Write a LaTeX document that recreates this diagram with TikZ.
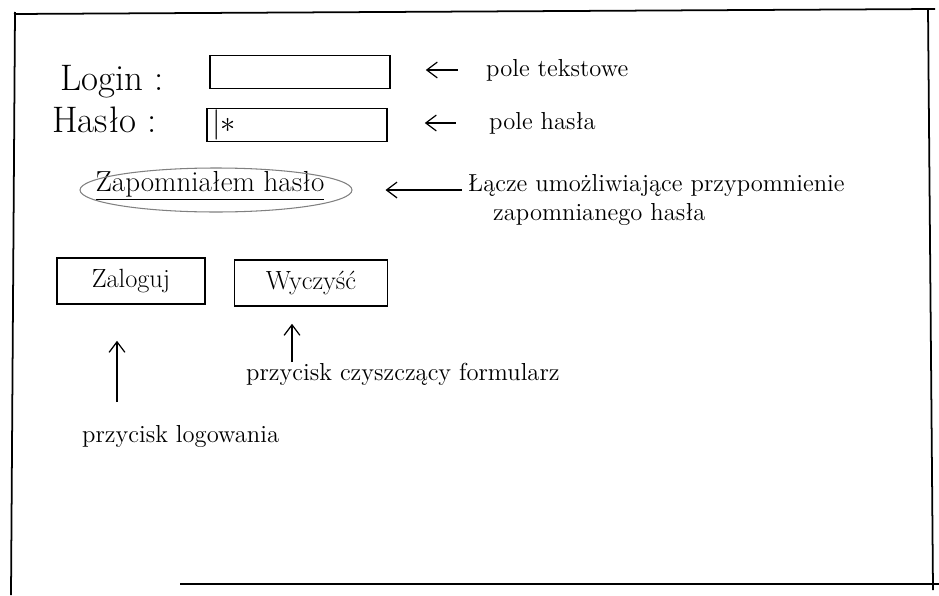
\documentclass[tikz,border=0pt]{standalone}
\usepackage{fontspec}
\usepackage{tikz}
\usetikzlibrary{shapes.geometric,arrows.meta,positioning,calc}

\begin{document}
\begin{tikzpicture}[
    x=0.02cm, y=-0.02cm,
    field/.style={rectangle, draw, line width=0.9pt, minimum width=3.6cm, minimum height=0.66cm},
    button/.style={rectangle, draw, line width=0.9pt, minimum height=0.92cm, font=\fontsize{15}{17}\selectfont},
    label/.style={font=\fontsize{21}{23}\selectfont, anchor=base west, inner sep=0pt},
    note/.style={font=\fontsize{14}{16}\selectfont, align=left, anchor=west},
    arrow/.style={-{Straight Barb[length=6pt,width=9pt]}, line width=0.7pt}
]
    \useasboundingbox (0,0) rectangle (939,595);
    % kartka
    \draw[line width=1pt] (14,14) -- (935,9);
    \draw[line width=1pt] (928,9) -- (933,590);
    \draw[line width=1pt] (180,584) -- (939,584);
    \draw[line width=1pt] (15,12) -- (11,595);

    % formularz
    \node[label] (login) at (60,90) {Login :};
    \node[label] (haslo) at (52,132) {Hasło :};
    \node[field] (loginfield) at (300,72) {};
    \node[field, text width=3.4cm, inner xsep=0.1cm, inner ysep=0pt, text height=10pt, text depth=2pt, align=left, font=\LARGE] (haslofield) at (297,125) {|$\ast$};

    \node[font=\fontsize{16.5}{18}\selectfont] (forgot) at (210,186) {\underline{Zapomniałem hasło}};
    \node[ellipse, draw, gray, line width=0.6pt, inner sep=0, minimum width=5.44cm, minimum height=0.88cm] (forgotoval) at (216,190) {};

    \node[button, minimum width=2.96cm] (zaloguj) at (131,281) {Zaloguj};
    \node[button, minimum width=3.06cm] (wyczysc) at (311,283) {Wyczyść};

    % opisy
    \node[note] (poletekst) at (480,70) {pole tekstowe};
    \node[note] (polehasla) at (483,123) {pole hasła};
    \node[note] (lacze) at (462,200) {Łącze umożliwiające przypomnienie\\\hspace{0.5cm}zapomnianego hasła};
    \node[note] (czyszczacy) at (240,374) {przycisk czyszczący formularz};
    \node[note] (logowanie) at (76,436) {przycisk logowania};

    \coordinate (zalogujptr) at (117,402);
    \coordinate (wyczyscptr) at (292,362);

    \draw[arrow, shorten <=0.45cm, shorten >=0.7cm] (poletekst.west) -- (loginfield.east |- poletekst.west);
    \draw[arrow, shorten <=0.55cm, shorten >=0.74cm] (polehasla.west) -- (haslofield.east |- polehasla.west);
    \draw[arrow, shorten >=0.66cm] (lacze.west |- forgotoval.east) -- (forgotoval.east);
    \draw[arrow, shorten >=0.72cm] (zalogujptr) -- (zalogujptr |- zaloguj.south);
    \draw[arrow, shorten >=0.34cm] (wyczyscptr) -- (wyczyscptr |- wyczysc.south);
\end{tikzpicture}
\end{document}
